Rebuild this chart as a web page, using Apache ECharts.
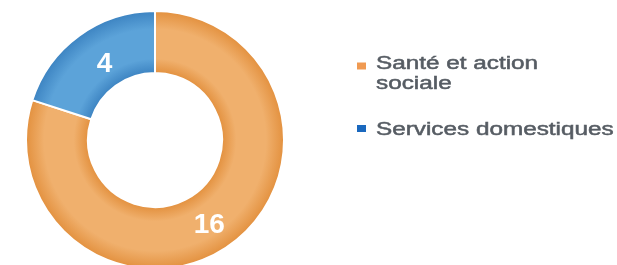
<!DOCTYPE html>
<html>
<head>
<meta charset="utf-8">
<script src="https://cdn.jsdelivr.net/npm/echarts@6/dist/echarts.min.js"></script>
<style>html,body{margin:0;padding:0;background:#fff}#c{width:617px;height:265px}</style>
</head>
<body>
<div id="c"></div>
<script>
var categories = ['Santé et action sociale', 'Services domestiques'];
var legendLabels = ['Santé et action\nsociale', 'Services domestiques'];
var values = [16, 4];

var CX = 155, CY = 140, R0 = 67, R1 = 129;
function ring(edge, mid) {
  return {
    type: 'radial', x: CX, y: CY, r: R1, global: true,
    colorStops: [
      {offset: 0, color: edge},
      {offset: R0 / R1, color: edge},
      {offset: 0.63, color: mid},
      {offset: 0.86, color: mid},
      {offset: 1, color: edge}
    ]
  };
}
var sliceColors = [ring('#E3913F', '#F0B06D'), ring('#3D84C2', '#5CA3D9')];
var legendColors = ['#F09A52', '#1A68BE'];
// small label nudges to sit where the reference numbers are
var labelNudge = [[-5, 4], [9, 6]];

var chart = echarts.init(document.getElementById('c'), null, {renderer: 'canvas'});
var graphic = [];
var legendY = [54.5, 120];
var squareY = [62.5, 125];
categories.forEach(function (c, i) {
  graphic.push({
    type: 'rect', x: 357, y: squareY[i],
    shape: {width: 9, height: 7},
    style: {fill: legendColors[i]}
  });
  graphic.push({
    type: 'text', x: 376, y: legendY[i], scaleX: 1.35,
    style: {
      text: legendLabels[i], fill: '#565c63',
      stroke: '#565c63', lineWidth: 0.5,
      font: '18px "Liberation Sans", Arial, sans-serif',
      lineHeight: 20, verticalAlign: 'top', align: 'left'
    }
  });
});

chart.setOption({
  animation: false,
  graphic: graphic,
  series: [{
    type: 'pie',
    center: [CX, CY],
    radius: [R0, R1],
    startAngle: 90,
    clockwise: true,
    avoidLabelOverlap: false,
    label: {
      show: true, position: 'inside', formatter: '{c}',
      color: '#fff', fontSize: 28, fontWeight: 'bold',
      fontFamily: '"Liberation Sans", Arial, sans-serif'
    },
    labelLayout: function (p) {
      return {dx: labelNudge[p.dataIndex][0], dy: labelNudge[p.dataIndex][1]};
    },
    labelLine: {show: false},
    emphasis: {disabled: true},
    itemStyle: {borderColor: '#fff', borderWidth: 2},
    data: categories.map(function (c, i) {
      return {name: c, value: values[i], itemStyle: {color: sliceColors[i]}};
    })
  }]
});
</script>
</body>
</html>
